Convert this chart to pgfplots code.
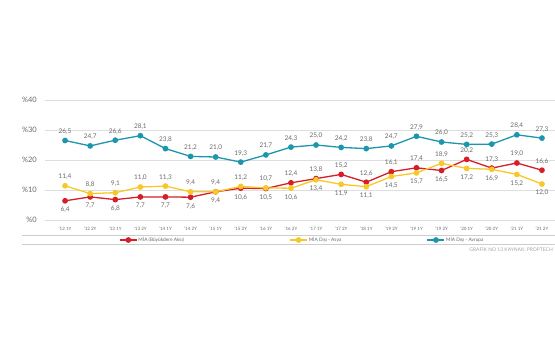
\documentclass[border=0pt]{standalone}
\usepackage{fontspec}
\setmainfont{Lato}
\usepackage{pgfplots}
\usepackage{pgfplotstable}
\pgfplotsset{compat=1.18}
\definecolor{cred}{RGB}{214,30,40}
\definecolor{cyel}{RGB}{248,200,40}
\definecolor{cblu}{RGB}{28,150,172}
\definecolor{ctxt}{RGB}{105,105,105}
\definecolor{cgrid}{RGB}{222,222,222}
\definecolor{cline}{RGB}{205,205,205}

\pgfplotstableread{
x red redpos yel yelpos blu blupos
0  6.4  -9 11.4  9 26.5 9
1  7.7  -9  8.8  9 24.7 9
2  6.8  -9  9.1  9 26.6 9
3  7.7  -9 11.0  9 28.1 9
4  7.7  -9 11.3  9 23.8 9
5  7.6  -9  9.4  9 21.2 9
6  9.4  -9  9.4  9 21.0 9
7 10.6  -9 11.2  9 19.3 9
8 10.5  -9 10.7  9 21.7 9
9 12.4   9 10.6 -9 24.3 9
10 13.8  9 13.4 -9 25.0 9
11 15.2  9 11.9 -9 24.2 9
12 12.6  9 11.1 -9 23.8 9
13 16.1  9 14.5 -9 24.7 9
14 17.4  9 15.7 -9 27.9 9
15 16.5 -9 18.9  9 26.0 9
16 20.2  9 17.2 -9 25.2 9
17 17.3  9 16.9 -9 25.3 9
18 19.0  9 15.2 -9 28.4 9
19 16.6  9 12.0 -9 27.3 9
}\data

\begin{document}
\begin{tikzpicture}
\begin{axis}[
  name=ax,
  scale only axis, width=510bp, height=120bp,
  xmin=-0.8, xmax=19.52, ymin=0, ymax=40,
  clip=false,
  axis line style={draw=none},
  tick style={draw=none},
  ymajorgrids, grid style={cgrid, line width=0.8bp},
  ytick={0,10,20,30,40},
  yticklabels={\%0,\%10,\%20,\%30,\%40},
  yticklabel style={font=\fontsize{7.5}{8}\selectfont, text=ctxt, inner sep=0pt, anchor=east, xshift=-8bp},
  xtick={0,...,19},
  xticklabels={'12 1Y,'12 2Y,'13 1Y,'13 2Y,'14 1Y,'14 2Y,'15 1Y,'15 2Y,'16 1Y,'16 2Y,'17 1Y,'17 2Y,'18 1Y,'19 2Y,'19 1Y,'19 2Y,'20 1Y,'20 2Y,'21 1Y,'21 2Y},
  xticklabel style={font=\fontsize{4.5}{5}\selectfont, text=ctxt, inner sep=0pt, anchor=center, yshift=-9bp},
  legend columns=3,
  legend style={at={(axis description cs:0.1451,-0.1667)}, anchor=west, draw=none, fill=none, inner sep=0pt,
    font=\fontsize{4.8}{5}\selectfont, text=ctxt, nodes={inner sep=1bp}, column sep=0pt},
  legend image code/.code={\draw[mark repeat=2,mark phase=2,#1] plot coordinates {(0bp,0bp) (8.5bp,0bp) (17bp,0bp)};},
  labelplot/.style={draw=none, mark=none, forget plot,
    nodes near coords={\pgfmathprintnumber[fixed,fixed zerofill,precision=1,use comma,assume math mode=true]{\pgfplotspointmeta}},
    nodes near coords style={font=\fontsize{6.5}{7}\selectfont, text=ctxt, inner sep=0pt, anchor=center, yshift=\lpos*1bp}},
]
\addplot[cred, line width=1.3bp, mark=*, mark size=2.2bp] table[x=x,y=red]{\data};
\addlegendentry{\makebox[150bp][l]{MİA (Büyükdere Aksı)}}
\addplot[cyel, line width=1.3bp, mark=*, mark size=2.2bp] table[x=x,y=yel]{\data};
\addlegendentry{\makebox[117bp][l]{MİA Dışı - Asya}}
\addplot[cblu, line width=1.3bp, mark=*, mark size=2.2bp] table[x=x,y=blu]{\data};
\addlegendentry{MİA Dışı - Avrupa}
\addplot[labelplot, visualization depends on={\thisrow{redpos} \as \lpos}] table[x=x,y=red]{\data};
\addplot[labelplot, visualization depends on={\thisrow{yelpos} \as \lpos}] table[x=x,y=yel]{\data};
\addplot[labelplot, visualization depends on={\thisrow{blupos} \as \lpos}] table[x=x,y=blu]{\data};
\end{axis}
\begin{scope}[shift={(ax.south west)}, x=1bp, y=1bp]
\draw[cline, line width=1bp] (-23,-15.7) -- (510,-15.7);
\draw[cline, line width=1bp] (-23,-24) -- (510,-24);
\node[anchor=east, font=\fontsize{5}{6}\selectfont, text=ctxt!60, inner sep=0pt] at (508,-29) {GRAFİK NO 13 KAYNAK: PROPTECH};
\pgfresetboundingbox
\path[use as bounding box] (-45,-135) rectangle (510,220);
\end{scope}
\end{tikzpicture}
\end{document}
